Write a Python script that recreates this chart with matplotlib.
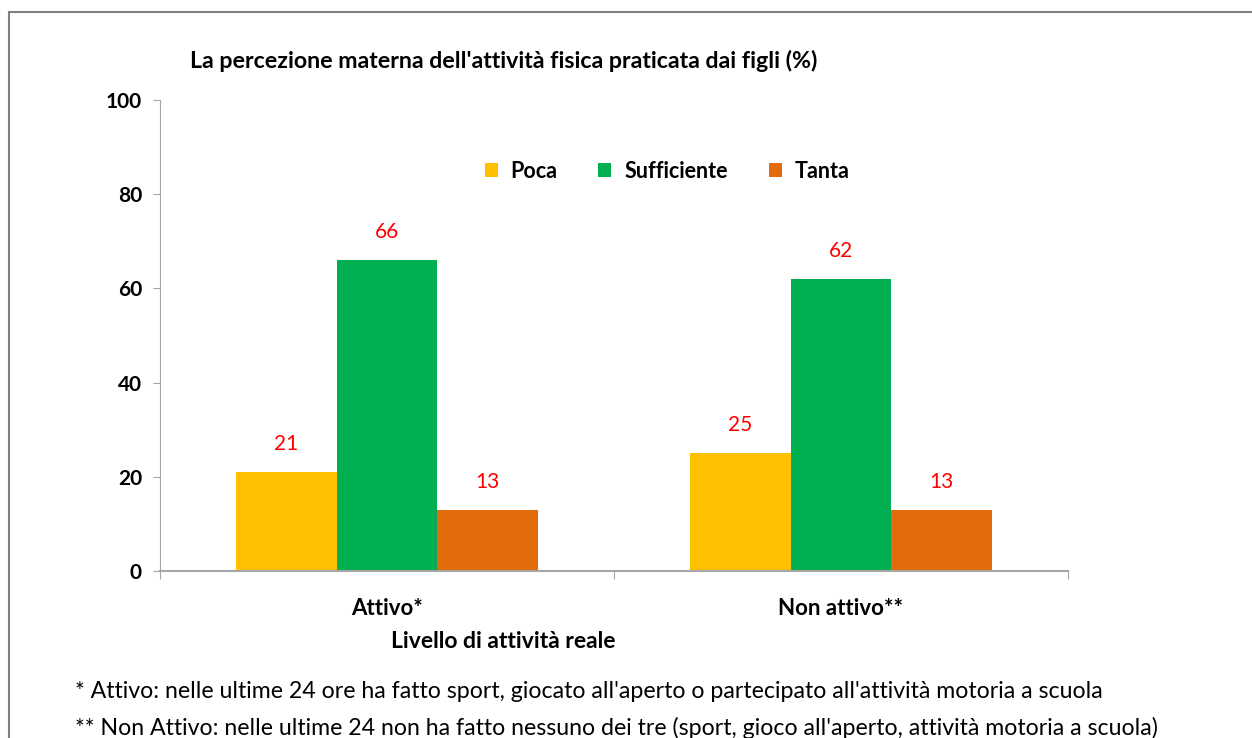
import matplotlib.pyplot as plt
import numpy as np
from matplotlib.patches import Rectangle

plt.rcParams['font.family'] = ['Lato', 'DejaVu Sans']

categorie = ['Attivo*', 'Non attivo**']
serie = ['Poca', 'Sufficiente', 'Tanta']
valori = {
    'Poca': [21, 25],
    'Sufficiente': [66, 62],
    'Tanta': [13, 13],
}
colori = ['#FFC000', '#00B050', '#E36C0A']

W, H = 1252, 738
fig = plt.figure(figsize=(W/100, H/100), dpi=100)
ax = fig.add_axes([160/W, 1-571/H, (1068-160)/W, (571-100)/H])

x = np.arange(len(categorie))
w = 0.222
for k, nome in enumerate(serie):
    pos = x + (k-1)*w
    ax.bar(pos, valori[nome], width=w, color=colori[k], label=nome, zorder=2)
    for xi, v in zip(pos, valori[nome]):
        ax.text(xi, v + 6.0, str(v), ha='center', va='center', color='red', fontsize=15)

ax.set_xlim(-0.5, 1.5)
ax.set_ylim(0, 100)
ax.set_yticks([0, 20, 40, 60, 80, 100])
ax.set_yticklabels(['0', '20', '40', '60', '80', '100'], fontsize=15, fontweight='bold')
ax.set_xticks([-0.5, 0.5, 1.5])
ax.set_xticklabels([])
ax.tick_params(axis='x', length=6, color='#A6A6A6', direction='out')
ax.tick_params(axis='y', length=5, color='#A6A6A6', direction='out', pad=8)
for s in ['top', 'right']:
    ax.spines[s].set_visible(False)
ax.spines['left'].set_color('#A6A6A6')
ax.spines['bottom'].set_color('#A6A6A6')
ax.spines['bottom'].set_linewidth(1.5)

for xi, c in zip(x, categorie):
    ax.text(xi, -7.9, c, ha='center', va='center', fontsize=16, fontweight='bold',
            transform=ax.transData)

ax.legend(loc='center', bbox_to_anchor=(667/W, 1-171/H), bbox_transform=fig.transFigure,
          ncol=3, frameon=False, prop={'weight': 'bold', 'size': 15.5},
          handlelength=0.6, handleheight=0.6, handletextpad=0.6, columnspacing=1.9)

fig.text(190/W, 1-61/H, "La percezione materna dell'attività fisica praticata dai figli (%)",
         ha='left', va='center', fontsize=16.7, fontweight='bold')
fig.text(503/W, 1-642/H, 'Livello di attività reale', ha='center', va='center',
         fontsize=16.5, fontweight='bold')
fig.text(75/W, 1-692/H, "* Attivo: nelle ultime 24 ore ha fatto sport, giocato all'aperto o partecipato all'attività motoria a scuola",
         ha='left', va='center', fontsize=16.7)
fig.text(75/W, 1-728/H, "** Non Attivo: nelle ultime 24 non ha fatto nessuno dei tre (sport, gioco all'aperto, attività motoria a scuola)",
         ha='left', va='center', fontsize=16.7)

fig.patches.append(Rectangle((9/W, -0.1), 1.2, 1 - 12/H + 0.1, transform=fig.transFigure,
                             fill=False, edgecolor='#7F7F7F', linewidth=1.5))

fig.savefig('out.png', dpi=100)
